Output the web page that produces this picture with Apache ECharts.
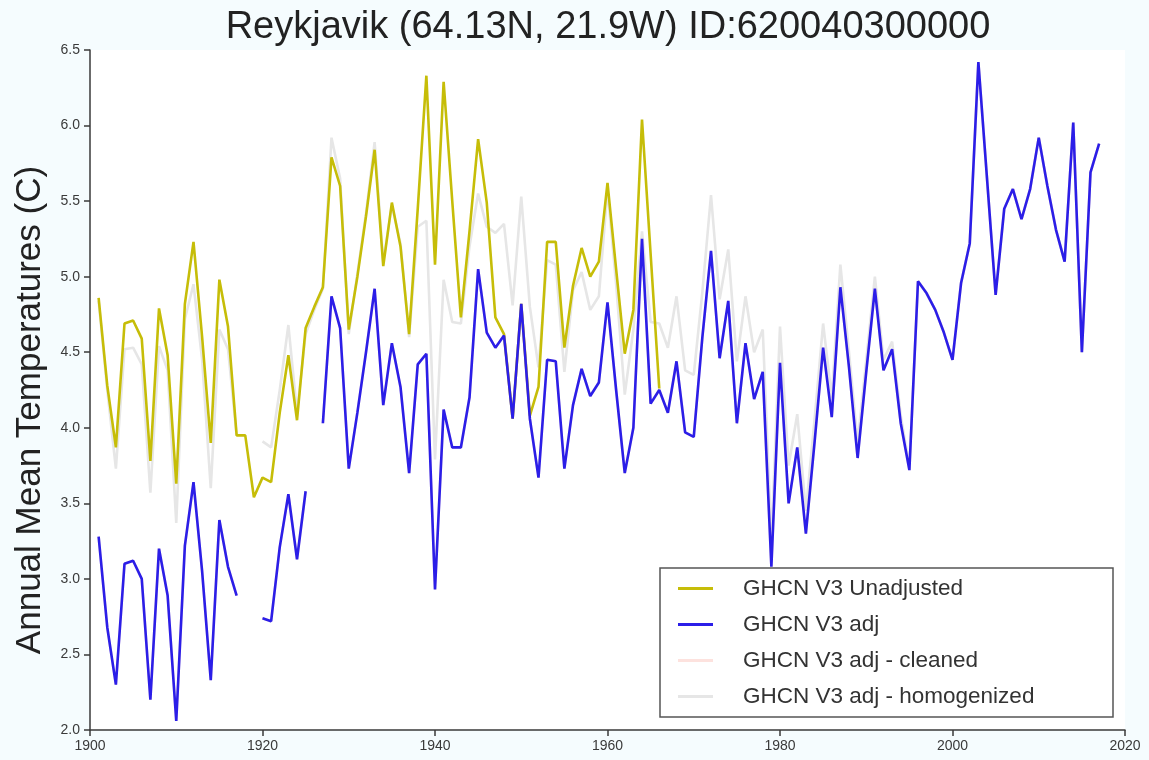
<!DOCTYPE html>
<html><head><meta charset="utf-8">
<script src="https://cdn.jsdelivr.net/npm/echarts@6/dist/echarts.min.js"></script>
<style>html,body{margin:0;padding:0;background:#f5fcfe;}#c{width:1149px;height:760px;}</style>
</head><body><div id="c"></div>
<script>
// Years 1901..2017
const firstYear = 1901;
const titleText = 'Reykjavik (64.13N, 21.9W) ID:620040300000';
const yAxisTitle = 'Annual Mean Temperatures (C)';
const seriesNames = ['GHCN V3 Unadjusted', 'GHCN V3 adj', 'GHCN V3 adj - cleaned', 'GHCN V3 adj - homogenized'];
const xTicks = [1900, 1920, 1940, 1960, 1980, 2000, 2020];
const yTicks = [2.0, 2.5, 3.0, 3.5, 4.0, 4.5, 5.0, 5.5, 6.0, 6.5];

const unadjusted = [
  4.86, 4.28, 3.87, 4.69, 4.71, 4.59, 3.78, 4.79, 4.48, 3.63,   // 1901-1910
  4.82, 5.23, 4.60, 3.90, 4.98, 4.67, 3.95, 3.95, 3.54, 3.67,   // 1911-1920
  3.64, 4.10, 4.48, 4.05, 4.66, 4.80, 4.93, 5.79, 5.60, 4.65,   // 1921-1930
  5.00, 5.40, 5.84, 5.07, 5.49, 5.20, 4.62, 5.45, 6.33, 5.08,   // 1931-1940
  6.29, 5.50, 4.73, 5.30, 5.91, 5.49, 4.73, 4.62, 4.06, 4.82,   // 1941-1950
  4.08, 4.27, 5.23, 5.23, 4.53, 4.94, 5.19, 5.00, 5.10, 5.62,   // 1951-1960
  5.05, 4.49, 4.78, 6.04, 5.15, 4.26, null, null, null, null,   // 1961-1970
  null, null, null, null, null, null, null, null, null, null,   // 1971-1980
  null, null, null, null, null, null, null, null, null, null,   // 1981-1990
  null, null, null, null, null, null, null, null, null, null,   // 1991-2000
  null, null, null, null, null, null, null, null, null, null,   // 2001-2010
  null, null, null, null, null, null, null                      // 2011-2017
];
const adjusted = [
  3.28, 2.68, 2.30, 3.10, 3.12, 3.00, 2.20, 3.20, 2.89, 2.06,   // 1901-1910
  3.22, 3.64, 3.05, 2.33, 3.39, 3.08, 2.89, null, null, 2.74,   // 1911-1920
  2.72, 3.21, 3.56, 3.13, 3.58, null, 4.03, 4.87, 4.66, 3.73,   // 1921-1930
  4.10, 4.50, 4.92, 4.15, 4.56, 4.27, 3.70, 4.42, 4.49, 2.93,   // 1931-1940
  4.12, 3.87, 3.87, 4.20, 5.05, 4.63, 4.53, 4.61, 4.06, 4.82,   // 1941-1950
  4.06, 3.67, 4.45, 4.44, 3.73, 4.15, 4.39, 4.21, 4.30, 4.83,   // 1951-1960
  4.25, 3.70, 4.00, 5.25, 4.16, 4.25, 4.10, 4.44, 3.97, 3.94,   // 1961-1970
  4.60, 5.17, 4.46, 4.84, 4.03, 4.56, 4.19, 4.37, 3.08, 4.43,   // 1971-1980
  3.50, 3.87, 3.30, 3.90, 4.53, 4.07, 4.93, 4.40, 3.80, 4.37,   // 1981-1990
  4.92, 4.38, 4.52, 4.03, 3.72, 4.97, 4.89, 4.78, 4.63, 4.45,   // 1991-2000
  4.96, 5.22, 6.42, 5.65, 4.88, 5.45, 5.58, 5.38, 5.58, 5.92,   // 2001-2010
  5.60, 5.31, 5.10, 6.02, 4.50, 5.69, 5.88                      // 2011-2017
];
const cleaned = [
  3.28, 2.68, 2.30, 3.10, 3.12, 3.00, 2.20, 3.20, 2.89, 2.06,
  3.22, 3.64, 3.05, 2.33, 3.39, 3.08, 2.89, null, null, 2.74,
  2.72, 3.21, 3.56, 3.13, 3.58, null, 4.03, 4.87, 4.66, 3.73,
  4.10, 4.50, 4.92, 4.15, 4.56, 4.27, 3.70, 4.42, 4.49, 2.93,
  4.12, 3.87, 3.87, 4.20, 5.05, 4.63, 4.53, 4.61, 4.06, 4.82,
  4.06, 3.67, 4.45, 4.44, 3.73, 4.15, 4.39, 4.21, 4.30, 4.83,
  4.25, 3.70, 4.00, 5.25, 4.16, 4.25, 4.10, 4.44, 3.97, 3.94,
  4.60, 5.17, 4.46, 4.84, 4.03, 4.56, 4.19, 4.37, 3.08, 4.43,
  3.50, 3.87, 3.30, 3.90, 4.53, 4.07, 4.93, 4.40, 3.80, 4.37,
  4.92, 4.38, 4.52, 4.03, 3.72, 4.97, 4.89, 4.78, 4.63, 4.45,
  4.96, 5.22, 6.42, 5.65, 4.88, 5.45, 5.58, 5.38, 5.58, 5.92,
  5.60, 5.31, 5.10, 6.02, 4.50, 5.69, 5.88
];
const homogenized = [
  4.84, 4.25, 3.73, 4.52, 4.53, 4.42, 3.57, 4.54, 4.38, 3.37,   // 1901-1910
  4.72, 4.95, 4.45, 3.60, 4.65, 4.52, 3.95, null, null, 3.91,   // 1911-1920
  3.87, 4.25, 4.68, 4.10, 4.62, 4.78, 4.92, 5.92, 5.65, 4.62,   // 1921-1930
  5.02, 5.42, 5.89, 5.10, 5.47, 5.22, 4.60, 5.33, 5.37, 3.79,   // 1931-1940
  4.98, 4.70, 4.69, 5.20, 5.55, 5.33, 5.29, 5.35, 4.81, 5.53,   // 1941-1950
  4.80, 4.40, 5.11, 5.08, 4.37, 4.91, 5.03, 4.78, 4.87, 5.58,   // 1951-1960
  4.95, 4.22, 4.65, 5.30, 4.70, 4.69, 4.53, 4.87, 4.38, 4.35,   // 1961-1970
  4.90, 5.54, 4.85, 5.18, 4.44, 4.87, 4.50, 4.65, 3.25, 4.67,   // 1971-1980
  3.75, 4.09, 3.45, 4.05, 4.69, 4.20, 5.08, 4.50, 3.90, 4.45,   // 1981-1990
  5.00, 4.45, 4.57, 4.08, 3.74, 4.97, 4.89, 4.78, 4.63, 4.45,   // 1991-2000
  4.96, 5.22, 6.42, 5.65, 4.88, 5.45, 5.58, 5.38, 5.58, 5.92,   // 2001-2010
  5.60, 5.31, 5.10, 6.02, 4.50, 5.69, 5.88                      // 2011-2017
];

const colors = ['#c6bd08', '#2b1ee8', '#fde2de', '#e6e6e6'];
const FONT = '"Liberation Sans", Arial, sans-serif';

function pairs(arr) { return arr.map((v, i) => [firstYear + i, v]); }

function lineSeries(name, arr, color, z) {
  return {
    name: name, type: 'line', data: pairs(arr), showSymbol: false, symbol: 'none',
    connectNulls: false, z: z, color: color,
    lineStyle: { color: color, width: 2.6 }, animation: false
  };
}

const chart = echarts.init(document.getElementById('c'), null, { renderer: 'canvas' });
chart.setOption({
  backgroundColor: '#f5fcfe',
  animation: false,
  grid: { left: 90, right: 24, top: 50, bottom: 30, show: true, backgroundColor: '#ffffff', borderWidth: 0 },
  xAxis: {
    type: 'value', min: xTicks[0], max: xTicks[xTicks.length - 1], interval: 20,
    axisLine: { show: true, lineStyle: { color: '#3a3a3a', width: 1.5 } },
    axisTick: { show: true, length: 6, lineStyle: { color: '#3a3a3a', width: 1.5 } },
    splitLine: { show: false },
    axisLabel: { color: '#3a3a3a', fontSize: 14, fontFamily: FONT, margin: 9, formatter: v => String(v) }
  },
  yAxis: {
    type: 'value', min: yTicks[0], max: yTicks[yTicks.length - 1], interval: 0.5,
    axisLine: { show: true, lineStyle: { color: '#3a3a3a', width: 1.5 } },
    axisTick: { show: true, length: 6, lineStyle: { color: '#3a3a3a', width: 1.5 } },
    splitLine: { show: false },
    axisLabel: { color: '#3a3a3a', fontSize: 14, fontFamily: FONT, margin: 10, formatter: v => v.toFixed(1) }
  },
  legend: {
    orient: 'vertical', left: 678, top: 577, padding: 0, z: 60,
    itemWidth: 35, itemHeight: 3, itemGap: 13, icon: 'rect',
    data: seriesNames,
    textStyle: { fontSize: 22.5, color: '#333', fontFamily: FONT, lineHeight: 20, padding: [0, 0, 0, 25] }
  },
  graphic: {
    elements: [
      { type: 'text', x: 608, y: 28, z: 60,
        style: { text: titleText, fill: '#222', font: '38px ' + FONT, textAlign: 'center', textVerticalAlign: 'middle' } },
      { type: 'text', x: 30, y: 410, rotation: Math.PI / 2, z: 60,
        style: { text: yAxisTitle, fill: '#222', font: '35px ' + FONT, textAlign: 'center', textVerticalAlign: 'middle' } },
      { type: 'rect', x: 660, y: 568, z: 50,
        shape: { width: 453, height: 149 },
        style: { fill: '#ffffff', stroke: '#555', lineWidth: 1.5 } }
    ]
  },
  series: [
    lineSeries(seriesNames[3], homogenized, colors[3], 2),
    lineSeries(seriesNames[2], cleaned, colors[2], 3),
    lineSeries(seriesNames[0], unadjusted, colors[0], 4),
    lineSeries(seriesNames[1], adjusted, colors[1], 5)
  ]
});
</script></body></html>
